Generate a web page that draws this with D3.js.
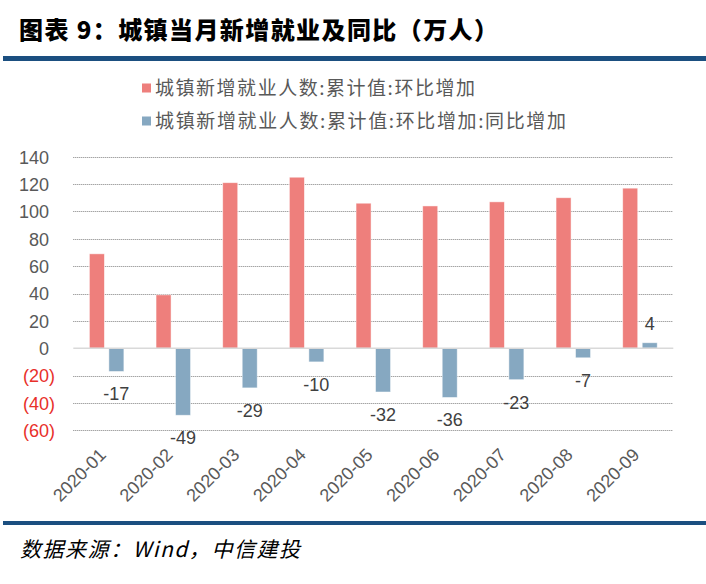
<!DOCTYPE html>
<html><head><meta charset="utf-8">
<script src="https://cdn.jsdelivr.net/npm/d3@7/dist/d3.min.js"></script>
<style>html,body{margin:0;padding:0;background:#fff;}svg{display:block;}</style>
</head><body>
<svg id="chart" width="706" height="584"></svg>
<script>
const categories = ["2020-01","2020-02","2020-03","2020-04","2020-05","2020-06","2020-07","2020-08","2020-09"];
const momValues = [69, 39, 121, 125, 106, 104, 107, 110, 117];
const yoyValues = [-17, -49, -29, -10, -32, -36, -23, -7, 4];
const seriesNames = ["城镇新增就业人数:累计值:环比增加", "城镇新增就业人数:累计值:环比增加:同比增加"];
const yTicks = [-60, -40, -20, 0, 20, 40, 60, 80, 100, 120, 140];
const titleText = "图表 9：城镇当月新增就业及同比（万人）";
const sourceText = "数据来源：Wind，中信建投";

const colors = ["#EE7F7C", "#86A8C1"];
const numFont = "'Liberation Sans', Arial, sans-serif";
const cjkFont = "'Noto Sans CJK SC', 'Liberation Sans', sans-serif";

const svg = d3.select("#chart");

// Title
svg.append("text").attr("x", 19).attr("y", 39)
  .attr("font-family", cjkFont).attr("font-weight", 900).attr("font-size", 24)
  .attr("textLength", 479).attr("lengthAdjust", "spacing")
  .attr("fill", "#000").text(titleText);
svg.append("rect").attr("x", 3).attr("y", 56).attr("width", 703).attr("height", 5).attr("fill", "#1B4F80");

// Bottom rule and source
svg.append("rect").attr("x", 3).attr("y", 521).attr("width", 703).attr("height", 4).attr("fill", "#1B4F80");
svg.append("text").attr("x", 20).attr("y", 557)
  .attr("font-family", cjkFont).attr("font-style", "italic").attr("font-size", 21)
  .attr("textLength", 280).attr("lengthAdjust", "spacing")
  .attr("fill", "#000").text(sourceText);

// Scales
const plotL = 73.3, plotR = 673.3;
const x = d3.scaleBand().domain(categories).range([plotL, plotR]).paddingInner(0).paddingOuter(0);
const y = d3.scaleLinear().domain([-60, 140]).range([430.3, 156.7]);
const bw = x.bandwidth();
const x1 = d3.scaleBand().domain([0, 1]).range([bw / 2 - 17.25, bw / 2 + 17.25]).paddingInner(0.23).paddingOuter(0);

// Gridlines
svg.append("g").selectAll("line").data(yTicks.filter(d => d !== 0)).join("line")
  .attr("x1", plotL).attr("x2", plotR)
  .attr("y1", d => Math.round(y(d)) + 0.5).attr("y2", d => Math.round(y(d)) + 0.5)
  .attr("stroke", "#7f7f7f").attr("stroke-width", 1).attr("stroke-dasharray", "1,1");

// Y axis labels via d3 axis
const yAxis = d3.axisLeft(y).tickValues(yTicks).tickSize(0).tickPadding(0)
  .tickFormat(d => d < 0 ? "(" + Math.abs(d) + ")" : String(d));
const gy = svg.append("g").attr("transform", "translate(55,0)").call(yAxis);
gy.select(".domain").remove();
gy.selectAll("text")
  .attr("font-family", numFont).attr("font-size", 18)
  .attr("fill", d => d < 0 ? "#E8302A" : "#595959")
  .attr("dy", "0.35em")
  .attr("x", d => d < 0 ? 0 : -6);

// Bars
const data = categories.map((c, i) => ({c, vals: [momValues[i], yoyValues[i]]}));
const groups = svg.append("g").selectAll("g").data(data).join("g")
  .attr("transform", d => `translate(${x(d.c)},0)`);
groups.selectAll("rect").data(d => d.vals.map((v, k) => ({v, k}))).join("rect")
  .attr("x", d => x1(d.k)).attr("width", x1.bandwidth())
  .attr("y", d => y(Math.max(0, d.v))).attr("height", d => Math.abs(y(d.v) - y(0)))
  .attr("fill", d => colors[d.k]).attr("stroke", "#fff").attr("stroke-width", 0.8).attr("stroke-opacity", 0.6);

// Zero line
svg.append("line").attr("x1", plotL).attr("x2", plotR).attr("y1", y(0)).attr("y2", y(0))
  .attr("stroke", "#D9D9D9").attr("stroke-width", 1.5);

// Data labels for yoy series
groups.append("text")
  .attr("x", d => x1(1) + x1.bandwidth() / 2)
  .attr("y", d => d.vals[1] < 0 ? y(d.vals[1]) + 29 : y(d.vals[1]) - 13)
  .attr("text-anchor", "middle")
  .attr("font-family", numFont).attr("font-size", 18).attr("fill", "#404040")
  .text(d => d.vals[1]);

// X axis labels (rotated)
svg.append("g").selectAll("text").data(categories).join("text")
  .attr("transform", d => `translate(${x(d) + bw / 2 + 0.5},456) rotate(-45)`)
  .attr("text-anchor", "end")
  .attr("font-family", numFont).attr("font-size", 18).attr("fill", "#595959")
  .text(d => d);

// Legend
const legend = svg.append("g");
seriesNames.forEach((name, i) => {
  const ly = 88 + i * 33;
  legend.append("rect").attr("x", 142).attr("y", ly - 4.5).attr("width", 9).attr("height", 9).attr("fill", colors[i]);
  legend.append("text").attr("x", 155).attr("y", ly).attr("dy", "0.36em")
    .attr("font-family", cjkFont).attr("font-size", 19).attr("fill", "#595959")
    .attr("textLength", i === 0 ? 320 : 411).attr("lengthAdjust", "spacing")
    .text(name);
});
</script>
</body></html>
